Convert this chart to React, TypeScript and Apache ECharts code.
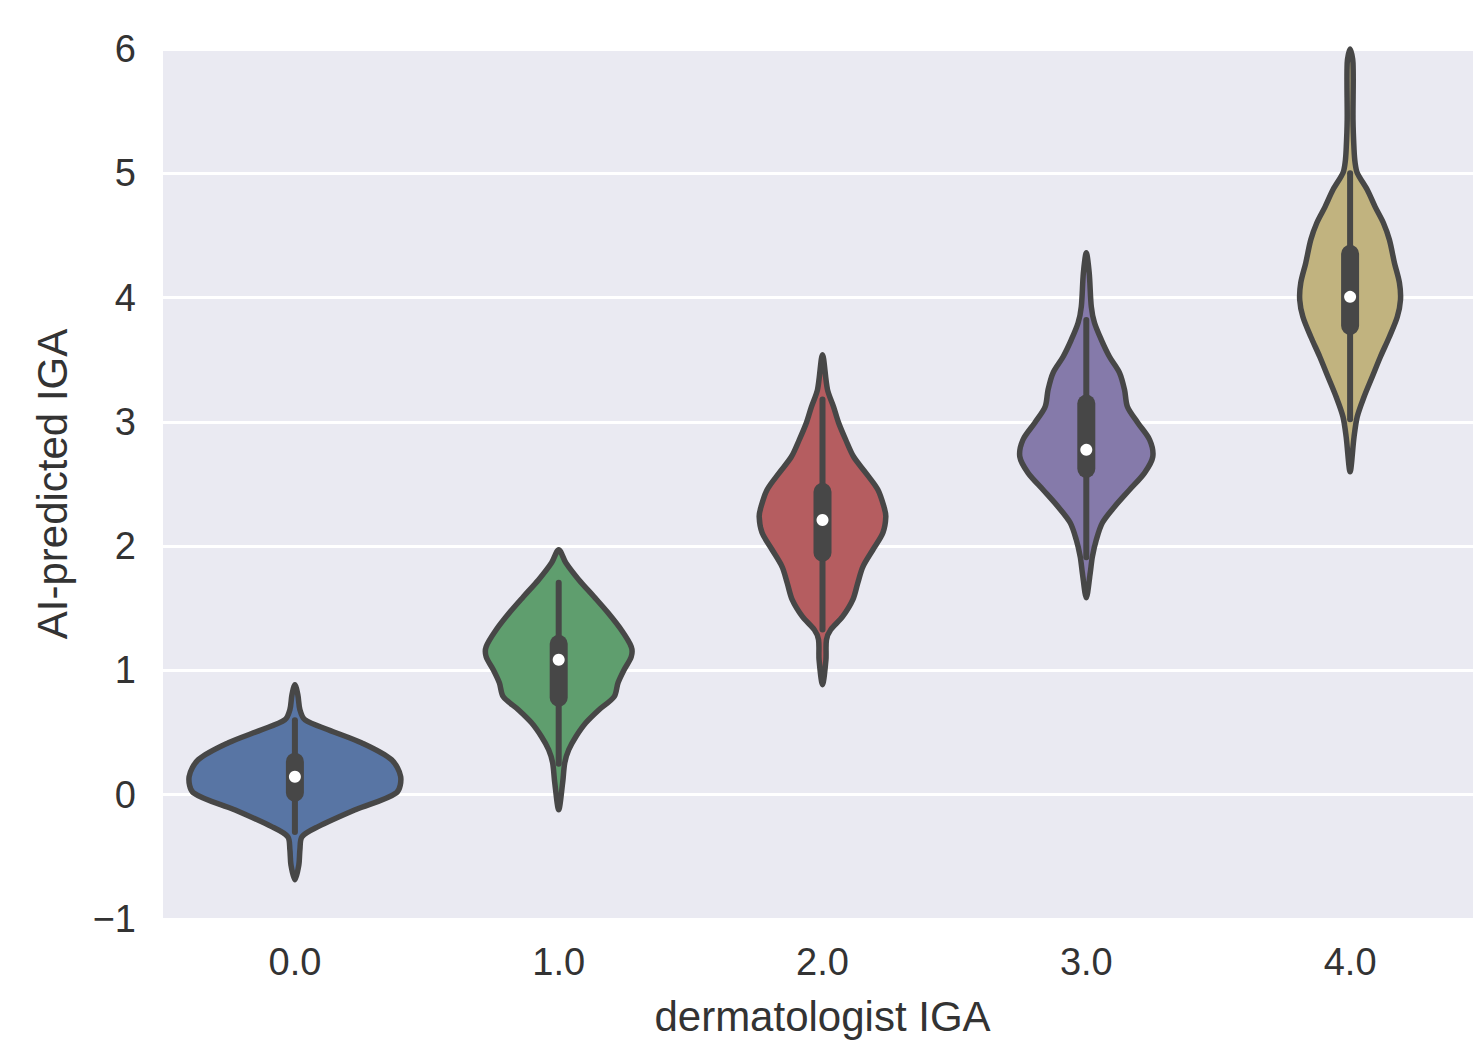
import React, { useEffect, useRef } from "react";
import * as echarts from "echarts";

// Categories (dermatologist IGA)
const categories = ["0.0", "1.0", "2.0", "3.0", "4.0"];

// Violin outlines: y values (AI-predicted IGA) and half-widths (fraction of category band)
const blueY = [0.885, 0.805, 0.684, 0.603, 0.523, 0.418, 0.282, 0.145, 0.016, -0.121, -0.257, -0.338, -0.442, -0.563, -0.684];
const blueW = [0, 0.011, 0.019, 0.038, 0.126, 0.252, 0.366, 0.401, 0.385, 0.229, 0.088, 0.027, 0.019, 0.015, 0];

const greenY = [1.971, 1.866, 1.73, 1.593, 1.464, 1.327, 1.191, 1.11, 1.006, 0.901, 0.788, 0.684, 0.579, 0.467, 0.362, 0.257, 0.097, -0.121];
const greenW = [0, 0.027, 0.076, 0.134, 0.187, 0.237, 0.275, 0.275, 0.248, 0.225, 0.21, 0.153, 0.103, 0.065, 0.038, 0.023, 0.015, 0];

const redY = [3.54, 3.258, 3.121, 2.993, 2.856, 2.719, 2.59, 2.454, 2.317, 2.237, 2.108, 1.971, 1.834, 1.706, 1.569, 1.432, 1.327, 1.247, 1.086, 0.885];
const redW = [0, 0.019, 0.042, 0.061, 0.088, 0.118, 0.164, 0.21, 0.233, 0.24, 0.229, 0.191, 0.153, 0.134, 0.115, 0.076, 0.031, 0.015, 0.013, 0];

const purpleY = [4.36, 4.199, 3.926, 3.797, 3.66, 3.524, 3.395, 3.258, 3.121, 2.993, 2.856, 2.719, 2.59, 2.454, 2.317, 2.188, 2.051, 1.915, 1.786, 1.585];
const purpleW = [0, 0.011, 0.019, 0.031, 0.057, 0.088, 0.126, 0.145, 0.156, 0.195, 0.24, 0.252, 0.221, 0.164, 0.107, 0.061, 0.038, 0.023, 0.015, 0];

const goldY = [6.0, 5.889, 5.43, 5.189, 5.084, 5.004, 4.867, 4.73, 4.602, 4.465, 4.28, 4.119, 3.982, 3.846, 3.685, 3.524, 3.363, 3.202, 3.041, 2.88, 2.599];
const goldW = [0, 0.011, 0.011, 0.015, 0.019, 0.027, 0.065, 0.095, 0.126, 0.149, 0.168, 0.187, 0.191, 0.179, 0.149, 0.115, 0.084, 0.053, 0.027, 0.015, 0];

// Inner box statistics per category
const q1 = [-0.056, 0.708, 1.875, 2.55, 3.7];
const q3 = [0.338, 1.287, 2.51, 3.22, 4.425];
const medians = [0.145, 1.086, 2.21, 2.775, 4.006];
const whiskerLow = [-0.3, 0.25, 1.33, 1.91, 3.02];
const whiskerHigh = [0.6, 1.706, 3.18, 3.82, 5.0];

const colors = ["#5875A4", "#5F9E6E", "#B55D60", "#857AAA", "#C1B37F"];
const yTicks = [-1, 0, 1, 2, 3, 4, 5, 6];

const profiles = [
  { y: blueY, w: blueW },
  { y: greenY, w: greenW },
  { y: redY, w: redW },
  { y: purpleY, w: purpleW },
  { y: goldY, w: goldW },
];

const DARK = "#474747";
const TEXT = "#333333";

export default function App() {
  const ref = useRef<HTMLDivElement>(null);
  useEffect(() => {
    if (!ref.current) return;
    const chart = echarts.init(ref.current, null, { renderer: "svg" });
    const renderItem = (params: any, api: any) => {
      const idx = api.value(0);
      const prof = profiles[idx];
      const band = api.size([1, 0])[0];
      const n = prof.y.length;
      const pts: number[][] = [];
      const top = api.coord([idx, prof.y[0]]);
      pts.push([top[0], top[1]]);
      for (let i = 1; i < n - 1; i++) {
        const c = api.coord([idx, prof.y[i]]);
        pts.push([c[0] - prof.w[i] * band, c[1]]);
      }
      const bot = api.coord([idx, prof.y[n - 1]]);
      pts.push([bot[0], bot[1]]);
      for (let i = n - 2; i >= 1; i--) {
        const c = api.coord([idx, prof.y[i]]);
        pts.push([c[0] + prof.w[i] * band, c[1]]);
      }
      const cx = top[0];
      const wHi = api.coord([idx, whiskerHigh[idx]])[1];
      const wLo = api.coord([idx, whiskerLow[idx]])[1];
      const bHi = api.coord([idx, q3[idx]])[1];
      const bLo = api.coord([idx, q1[idx]])[1];
      const med = api.coord([idx, medians[idx]])[1];
      const boxW = 18;
      return {
        type: "group",
        children: [
          {
            type: "polygon",
            shape: { points: pts, smooth: 0.3 },
            style: { fill: colors[idx], stroke: DARK, lineWidth: 5.5, lineJoin: "round" },
          },
          {
            type: "line",
            shape: { x1: cx, y1: wHi, x2: cx, y2: wLo },
            style: { stroke: DARK, lineWidth: 6, lineCap: "round" },
          },
          {
            type: "rect",
            shape: { x: cx - boxW / 2, y: bHi, width: boxW, height: bLo - bHi, r: boxW / 2 },
            style: { fill: DARK },
          },
          {
            type: "circle",
            shape: { cx: cx, cy: med, r: 6 },
            style: { fill: "#ffffff" },
          },
        ],
      };
    };
    chart.setOption({
      animation: false,
      backgroundColor: "#ffffff",
      grid: {
        left: 163,
        right: 0,
        top: 49,
        bottom: 124,
        show: true,
        backgroundColor: "#EAEAF2",
        borderWidth: 0,
      },
      xAxis: {
        type: "category",
        data: categories,
        boundaryGap: true,
        axisLine: { show: false },
        axisTick: { show: false },
        splitLine: { show: false },
        axisLabel: {
          fontFamily: "Liberation Sans",
          fontSize: 38,
          color: TEXT,
          margin: 24,
        },
        name: "dermatologist IGA",
        nameLocation: "middle",
        nameGap: 76,
        nameTextStyle: { fontFamily: "Liberation Sans", fontSize: 42, color: TEXT },
      },
      yAxis: {
        type: "value",
        min: yTicks[0],
        max: yTicks[yTicks.length - 1],
        interval: 1,
        axisLine: { show: false },
        axisTick: { show: false },
        splitLine: { show: true, lineStyle: { color: "#ffffff", width: 3 } },
        axisLabel: {
          fontFamily: "Liberation Sans",
          fontSize: 38,
          color: TEXT,
          margin: 27,
          formatter: (v: number) => (v < 0 ? "\u2212" + Math.abs(v) : String(v)),
        },
        name: "AI-predicted IGA",
        nameLocation: "middle",
        nameGap: 90,
        nameTextStyle: { fontFamily: "Liberation Sans", fontSize: 42, color: TEXT },
      },
      series: [
        {
          type: "custom",
          renderItem,
          clip: false,
          data: categories.map((_, i) => [i, medians[i]]),
          encode: { x: 0, y: 1 },
          z: 5,
        },
      ],
    });
    return () => chart.dispose();
  }, []);
  return (
    <div
      style={{
        position: "fixed",
        left: 0,
        top: 0,
        width: 1473,
        height: 1043,
        overflow: "hidden",
        background: "#ffffff",
      }}
    >
      <div ref={ref} style={{ width: 1482, height: 1043 }} />
    </div>
  );
}
